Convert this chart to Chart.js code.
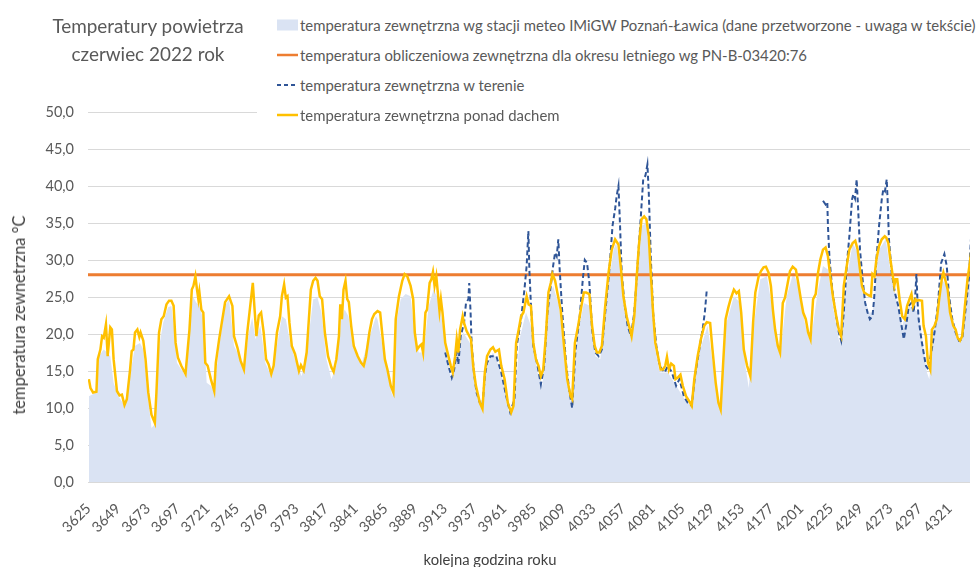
<!DOCTYPE html>
<html><head><meta charset="utf-8">
<script src="https://cdn.jsdelivr.net/npm/chart.js@4.4.1/dist/chart.umd.min.js"></script>
<style>
html,body{margin:0;padding:0;background:#fff;overflow:hidden}
#wrap{position:relative;width:980px;height:567px;font-family:Lato,"Open Sans",sans-serif;overflow:hidden}
#c{position:absolute;left:0;top:0}
#title{position:absolute;left:38px;top:12px;width:220px;text-align:center;color:#595959;font-size:18.9px;line-height:28px}
#legend{position:absolute;left:257px;top:6px;width:723px;height:122px;background:#fff}
.item{position:absolute;left:20px;height:30px;line-height:30px;white-space:nowrap;color:#595959;font-size:14.9px}
.item svg{position:absolute;left:0;top:9px}
.item span{position:absolute;left:23px;top:0}
#ytitle{position:absolute;left:19px;top:315px;transform:translate(-50%,-50%) rotate(-90deg);white-space:nowrap;color:#404040;font-size:16.5px}
#xtitle{position:absolute;left:490px;top:559px;transform:translate(-50%,-50%);white-space:nowrap;color:#404040;font-size:14.8px}
</style></head>
<body>
<div id="wrap">
<canvas id="c" width="980" height="567"></canvas>
<div id="title">Temperatury powietrza<br>czerwiec 2022 rok</div>
<div id="legend"></div>
<div id="ytitle">temperatura zewnetrzna °C</div>
<div id="xtitle">kolejna godzina roku</div>
</div>
<script>
// ---- data ----
const tickHours = [3625,3649,3673,3697,3721,3745,3769,3793,3817,3841,3865,3889,3913,3937,3961,3985,4009,4033,4057,4081,4105,4129,4153,4177,4201,4225,4249,4273,4297,4321];

const seriesLabels = [
  "temperatura zewnętrzna wg stacji meteo IMiGW Poznań-Ławica (dane przetworzone - uwaga w tekście)",
  "temperatura obliczeniowa zewnętrzna dla okresu letniego wg PN-B-03420:76",
  "temperatura zewnętrzna w terenie",
  "temperatura zewnętrzna ponad dachem"
];

// station (area)
const stationHours = [3625.3,3631.4,3633.3,3637.3,3639.9,3642.6,3645.3,3649.3,3654.1,3658.6,3662.6,3666.6,3669.3,3673.3,3675.9,3678.6,3681.3,3685.3,3689.3,3692,3694.6,3696.5,3700,3703.4,3706.6,3709.3,3711.9,3714.6,3717.8,3720.5,3723.9,3726.6,3730.6,3735.4,3738.6,3742.6,
3745.3,3750.6,3754.6,3757.3,3759.9,3763.9,3767.9,3772.7,3777.3,3781.3,3784.5,3788,3791.9,3797.3,3802.6,3806.6,3810.1,3813.3,3817.3,3821.3,3825.3,3829.3,3832,3835.1,3838.6,3845.3,3850.6,3857.3,
3858.6,3862.6,3866.6,3870.6,3873.3,3877.3,3881.3,3885.3,3887.9,3891.9,3895.9,3899.9,3903.9,3906.6,3910.6,3914.6,3917.8,3922.6,3927.9,3933.3,3937.3,3942.6,3946.6,3951.9,
3954.6,3961.3,3965.3,3969.3,3973.3,3978.6,3982.6,3987.9,3991.9,3996.7,4000.5,4005.3,4010.6,4015.4,4019.9,4025.3,4030.6,4034.6,4038.6,4043.9,4049.3,
4051.5,4054.6,4058.6,4063.4,4067.9,4071.9,4075.9,4079.4,4082.6,4086.6,4093.3,4099.9,4106.6,4111.9,4118.6,4125.3,4130.6,4135.4,4139.9,
4146.6,4151.9,4155.9,4158.6,4162.6,4167.9,4173.3,4177.3,4183.9,4189.3,4194.6,4198.6,4203.9,4208.5,4214.6,4218.6,4222.6,4226.6,4231.9,4238.6,
4242.6,4246.6,4250.6,4255.9,4258.6,4263.9,4269.3,4274.1,4282.6,4287.9,4295.9,4302.6,4304.5,4307.9,4314.6,4318.6,4322.6,4329.3,4334.6,4338.6];
const stationTemps = [11.6,12.1,17.0,17.9,17.5,17.0,13.4,11.6,10.3,14.3,18.4,18.8,17.9,11.2,7.3,7.8,17.5,21.5,23.6,23.8,20.2,16.1,15.2,14.3,20.2,25.1,24.3,23.8,22.0,13.4,13.0,12.1,18.4,23.8,24.7,18.4,
17.5,15.2,20.2,22.2,19.3,21.1,16.1,14.3,18.4,22.4,22.0,18.8,16.6,14.3,19.3,24.7,24.9,22.9,16.6,13.9,15.7,22.0,23.3,22.4,18.4,15.7,18.8,22.4,
22.0,18.4,14.8,11.6,21.1,24.7,25.4,25.1,21.1,17.5,17.5,23.8,26.0,25.1,22.0,17.5,13.9,16.6,20.2,18.8,13.9,9.8,15.7,17.5,
16.6,13.0,8.9,10.3,19.3,22.9,21.1,14.8,13.0,24.7,26.5,23.8,14.8,10.3,19.3,24.2,23.8,17.0,16.6,24.7,31.4,
32.3,29.2,22.9,19.7,27.4,34.6,35.0,28.3,18.4,14.8,14.8,13.0,11.2,10.3,17.5,21.1,14.8,9.8,21.1,
25.1,24.2,15.7,12.7,21.1,27.4,27.8,23.8,17.0,25.1,28.3,26.5,21.5,18.8,26.0,29.2,28.7,23.8,18.8,28.3,
32.3,31.0,25.6,22.9,22.9,31.4,32.8,27.4,21.1,23.8,22.9,14.8,13.9,20.2,27.4,26.5,22.0,18.8,26.0,32.8];

// design temperature (PN-B-03420:76)
const designHours = [3624, 4340];
const designTemps = [28.0, 28.0];

// field (dashed)
const fieldHours = [3913.3,3915.9,3918.6,3920.5,3922.6,3923.9,3925.8,3928.5,3930.1,3932,3932.7,3933.8,3934.6,3936.5,3938.6,3941.3,3943.4,3945.3,3947.1,3949.8,3954.6,3958.6,3962.6,3965.8,3969.3,3971.1,3974.6,3977.3,3979.1,3980.5,3981.3,3982.6,3984.5,3987.9,3990.6,3993.3,3995.9,3998.6,4000.5,4002.1,4003.4,4004.7,4005.8,4007.9,4011.1,4013.8,4015.9,4018.6,4021.8,4024.5,4026.1,4027.9,4029.8,4032,4034.6,4037.3,4039.9,4042.6,4045.8,4048.5,4050.6,4051.9,4053.3,4054.6,4055.9,4058.1,4060.7,4063.4,4066.1,4068.7,4071.4,4073.3,4075.1,4076.7,4077.8,4079.4,4081.3,4083.9,4086.6,4090.6,4093.3,4096.5,4099.9,4102.6,4106.1,4109.3,4112.5,4115.1,4118.6,4121.3,4123.1,4124.7,
4170,
4218.6,4220.7,4222.1,4222.6,4223.9,4226.1,4228.7,4231.4,4233.3,4235.4,4237.8,4239.9,4242.1,4243.1,4244.5,4245.8,4246.9,4248.5,4250.6,4252.7,4254.6,4256.5,4258.6,4259.9,4261.8,4263.9,4266.1,4267.4,4268.7,4270.1,4270.9,4271.9,4274.1,4276.7,4279.4,4282.1,4283.9,4285.8,4287.9,4290.1,4291.9,4293.3,4294.1,4294.9,4295.9,4298.1,4299.9,4301.8,4303.9,4306.1,4308.7,4311.4,4314.1,4316.7,4318.6,4320.5,4323.1,4325.8,4328.5,4331.1,4333.8,4336.5,4338.6];
const fieldTemps = [17.5,15.7,14.1,15.2,17.5,15.9,19.7,21.5,24.2,24.7,26.9,22.9,18.8,14.8,12.1,10.7,10.3,14.3,16.1,17.0,17.0,14.8,11.6,9.4,11.2,18.4,22.0,26.0,29.2,33.9,28.7,23.8,18.4,15.7,13.2,15.7,22.9,26.5,29.2,31.0,30.5,32.8,28.7,22.9,15.7,12.1,10.0,17.9,22.0,27.4,30.0,29.6,26.9,20.6,17.5,17.0,17.9,22.9,28.3,34.6,36.9,38.7,40.0,34.6,28.3,24.2,21.1,19.7,22.9,29.2,35.9,40.9,41.4,42.9,39.1,30.5,22.9,18.4,15.7,14.8,15.7,14.8,13.0,13.9,11.6,10.7,10.3,14.3,17.9,20.6,22.9,26.0,
null,
38.0,37.5,37.8,34.6,30.1,26.0,22.9,20.2,19.1,22.9,29.2,33.2,38.2,38.9,38.3,40.9,37.3,31.4,27.4,24.2,22.9,22.0,22.4,24.7,30.1,34.6,38.2,39.6,39.3,40.9,37.8,32.8,28.3,25.6,23.8,21.1,19.3,21.1,23.8,24.2,22.9,25.6,28.1,24.7,22.0,19.3,17.5,15.7,15.2,17.5,20.2,23.8,29.6,30.8,29.2,25.1,22.0,20.2,19.1,19.3,23.3,27.4,34.2];

// above roof
const roofHours = [3625.3,3626.6,3628.7,3631.4,3632.5,3634.6,3636,3637.3,3639.1,3640.5,3642.6,3643.9,3645.3,3648,3650.1,3652,3654.1,3656,3658.6,3659.9,3661.3,3662.6,3664.5,3666.1,3667.1,3669.3,3671.1,3673.3,3675.9,3678.6,3679.9,3682,3683.9,3685.8,3688,3690.1,3692,3693.8,3695.4,3697.3,3700,3703.4,3705.3,3706.6,3708.5,3709.8,3711.4,3712.7,3713.8,3714.6,3716.2,3717.8,3719.4,3721.3,3723.9,3726.6,3727.9,3730.6,3732.7,3735.4,3738.6,
3741.3,3742.6,3745.3,3747.9,3750.6,3753.3,3755.1,3757.8,3759.4,3760.7,3762.6,3764.5,3766.6,3768.5,3770.6,3772.7,3774.6,3777.3,3779.9,3781.3,3783.1,3784.5,3785.8,3787.4,3789.3,3791.9,3795.1,3796.7,3798.9,3801.3,3803.1,3804.7,3806.6,3808.5,3810.1,3811.9,3813.8,3816,3818.6,3821.3,3823.1,3825.3,3827.4,3828.5,3829.8,3831.1,3832.7,3834.1,3835.4,3837.3,3839.4,3842.6,3845.3,3847.4,3849.3,3852,3854.1,3856,3858.6,
3860.7,3862.6,3864.5,3866.6,3869.3,3871.4,3873.3,3875.9,3878.6,3880.5,3882.6,3885.3,3887.4,3888.7,3890.6,3892.7,3894.1,3895.4,3897.3,3898.6,3900.7,3902.1,3903.4,3904.7,3906.1,3907.1,3908.7,3909.8,3911.1,3913.3,3915.9,3917.8,3919.4,3921.3,3922.6,3923.9,3925.3,3927.4,3928.5,3930.6,3934.1,3935.9,3938.1,3941.3,3943.4,3945.3,3947.1,3949.8,3951.9,3953.8,
3956.7,3958.6,3961.3,3963.9,3966.6,3968.5,3970.6,3972.7,3974.6,3976.5,3979.1,3980.7,3982.6,3984.5,3986.6,3988.7,3990.6,3992.5,3994.6,3996.7,3998.6,3999.9,4002.1,4003.9,4006.6,4009.3,4011.9,4014.6,4015.9,4018.1,4020.7,4023.4,4025.3,4027.2,4029.8,4032,4034.1,4035.9,4037.8,4039.9,4042.6,4045.3,4047.9,4050.6,
4053.3,4055.4,4057.3,4059.9,4062.6,4063.9,4066.1,4067.9,4069.8,4071.9,4074.1,4075.9,4077.8,4079.4,4081.3,4083.1,4085.3,4087.4,4089.3,4091.1,4092.5,4094.1,4095.9,4098.1,4099.4,4101.3,4103.4,4105.3,4107.9,4110.6,4112.5,4114.6,4117.3,4119.9,4122.6,4124.7,4127.4,4129.3,4131.9,4134.1,4135.9,4137.8,4139.9,4142.1,4143.9,4146.6,
4148.7,4150.6,4152.5,4154.6,4157.3,4159.9,4162.1,4163.9,4166.6,4168.5,4170.6,4172.5,4174.6,4176.5,4178.1,4179.9,4182.1,4183.9,4186.1,4187.9,4190.1,4191.9,4194.1,4196.7,4198.6,4200.7,4202.6,4204.7,4206.6,4208.5,4210.6,4212.7,4214.6,4216.5,4218.6,4220.7,4222.6,4224.5,4226.6,4229.3,4231.4,4233.3,4235.4,4237.8,4239.9,4242.6,
4244.7,4246.6,4248.5,4250.1,4251.9,4253.8,4255.9,4257.3,4258.6,4260.2,4261.8,4263.9,4266.1,4268.5,4269.8,4271.4,4272.7,4274.6,4276.2,4277.3,4278.6,4280.5,4282.6,4284.7,4286.6,4288.5,4290.1,4291.4,4293.3,4294.6,4295.9,4298.6,4299.9,4301.8,4303.4,4305.3,4306.6,4308.7,4310.6,4312.5,4314.6,4315.9,4317.3,4319.4,4321.3,4323.9,4325.8,4327.4,4329.3,4331.1,4333.3,4335.4,4337.3,4338.6];
const roofTemps = [13.9,12.7,12.1,12.2,16.6,17.9,19.7,19.5,21.3,17.0,20.9,20.6,16.6,12.3,11.7,11.8,10.4,11.2,15.2,17.7,17.9,20.2,20.6,19.6,20.2,19.1,16.6,12.1,9.1,8.0,12.1,20.2,22.0,22.4,24.0,24.5,24.5,23.8,18.8,16.8,15.7,14.6,18.2,20.6,26.0,26.5,27.8,26.0,24.7,25.7,23.3,22.9,16.1,15.7,13.9,12.3,16.1,19.3,21.5,24.3,25.1,
23.8,19.7,18.2,16.4,15.2,20.2,22.9,26.9,22.9,19.7,22.5,22.9,20.2,16.6,15.9,14.6,15.7,20.2,22.4,25.1,26.7,24.9,25.1,21.5,18.4,17.3,15.0,15.8,15.1,17.5,22.0,26.0,27.2,27.6,27.2,25.1,24.7,20.2,17.0,15.5,14.9,16.6,19.7,24.0,22.0,26.0,27.2,24.7,24.3,21.1,18.4,17.0,16.1,15.7,17.0,20.2,22.0,22.7,23.1,
22.9,19.7,16.6,15.2,13.0,12.1,22.0,25.1,27.2,28.1,27.8,26.5,24.7,20.2,17.9,18.4,18.6,17.5,22.9,23.3,26.9,27.4,28.4,26.5,27.8,26.0,23.1,24.7,22.9,18.8,17.0,15.7,14.8,17.0,19.3,17.5,20.6,22.4,21.5,20.4,19.3,15.7,13.0,10.7,9.9,14.8,17.0,17.9,18.2,17.6,
17.9,15.7,13.9,10.7,9.4,10.3,18.8,20.6,22.4,22.9,25.1,24.0,23.8,18.8,16.6,15.7,14.3,15.2,19.7,25.6,26.9,28.1,27.2,25.6,23.3,18.4,13.9,11.6,11.2,18.8,21.1,23.8,25.6,25.6,25.4,21.1,18.4,17.5,17.5,18.4,23.8,28.3,31.4,32.8,
32.1,28.7,25.1,22.4,20.6,19.7,22.4,27.4,31.9,35.5,35.9,35.5,33.2,28.3,22.9,18.8,17.0,15.2,15.2,15.7,16.9,15.2,16.0,15.7,13.9,14.1,14.5,13.0,11.6,10.9,10.3,13.9,17.0,19.3,21.1,21.6,21.5,17.9,13.4,10.7,9.8,15.7,22.0,23.6,24.7,26.0,
25.5,25.8,22.9,17.9,15.7,14.3,21.5,25.6,27.8,28.5,29.0,29.1,28.3,26.5,23.3,20.6,18.4,17.5,24.2,24.9,26.9,28.5,29.1,28.7,26.9,24.7,22.9,22.0,20.2,19.3,24.7,25.4,28.3,30.1,31.4,31.7,30.5,27.8,25.1,22.4,20.6,19.7,26.5,29.2,31.4,32.3,
32.6,31.4,28.7,26.5,25.6,25.4,25.2,25.1,28.1,27.8,30.1,31.9,32.8,33.2,33.0,32.3,30.5,28.3,26.5,27.4,27.4,24.7,22.4,22.0,23.8,24.7,25.4,23.8,24.7,24.5,24.6,24.5,21.1,19.7,16.1,15.2,20.6,21.1,22.0,24.7,27.4,28.3,27.4,26.0,22.9,21.1,20.6,19.5,19.1,19.7,23.8,27.4,29.6,31.4];

const seriesColors = ["#DAE3F3", "#ED7D31", "#2F5597", "#FFC000"];

// ---- chart ----
const pts = (hs, ts) => hs.map((h, i) => ({x: h, y: ts[i]}));
const FONT = "Lato";

const chart = new Chart(document.getElementById('c'), {
  type: 'line',
  data: {
    datasets: [
      {label: seriesLabels[0], data: pts(stationHours, stationTemps), borderWidth: 0, borderColor: seriesColors[0],
       backgroundColor: seriesColors[0], fill: 'origin', pointRadius: 0, tension: 0, order: 4},
      {label: seriesLabels[1], data: pts(designHours, designTemps), borderWidth: 3, borderColor: seriesColors[1],
       fill: false, pointRadius: 0, order: 3},
      {label: seriesLabels[2], data: pts(fieldHours, fieldTemps), borderWidth: 2, borderColor: seriesColors[2],
       borderDash: [5, 3], fill: false, pointRadius: 0, tension: 0, spanGaps: false, order: 2},
      {label: seriesLabels[3], data: pts(roofHours, roofTemps), borderWidth: 2.5, borderColor: seriesColors[3],
       fill: false, pointRadius: 0, tension: 0, order: 1}
    ]
  },
  options: {
    responsive: false,
    animation: false,
    devicePixelRatio: 1,
    layout: {padding: {top: 112, left: 0, right: 0, bottom: 0}},
    plugins: {legend: {display: false}, tooltip: {enabled: false}, title: {display: false}},
    events: [],
    scales: {
      x: {
        type: 'linear', min: 3624.6, max: 4337.4,
        afterBuildTicks: s => { s.ticks = tickHours.map(v => ({value: v})); },
        afterFit: s => { s.height = 85; },
        ticks: {autoSkip: false, minRotation: 45, maxRotation: 45, color: '#595959',
                font: {family: FONT, size: 14.5}, padding: 18, callback: v => String(v)},
        grid: {display: false, drawTicks: false},
        border: {display: true, color: '#D9D9D9'}
      },
      y: {
        min: 0, max: 50,
        afterFit: s => { s.width = 88; },
        ticks: {stepSize: 5, color: '#595959', font: {family: FONT, size: 14.5}, padding: 14,
                callback: v => v.toFixed(1).replace('.', ',')},
        grid: {color: '#D9D9D9', drawTicks: false, tickLength: 0},
        border: {display: false}
      }
    }
  }
});

// ---- legend (HTML) ----
const leg = document.getElementById('legend');
chart.data.datasets.forEach((ds, i) => {
  const it = document.createElement('div');
  it.className = 'item';
  it.style.top = (4 + 30 * i) + 'px';
  let sym;
  if (i === 0) sym = `<svg width="21" height="12"><rect x="0" y="0.5" width="21" height="11" fill="${ds.backgroundColor}"/></svg>`;
  else if (i === 2) sym = `<svg width="21" height="12"><line x1="0" y1="6" x2="21" y2="6" stroke="${ds.borderColor}" stroke-width="2" stroke-dasharray="4,3"/></svg>`;
  else sym = `<svg width="21" height="12"><line x1="0" y1="6" x2="21" y2="6" stroke="${ds.borderColor}" stroke-width="2.5"/></svg>`;
  it.innerHTML = sym + `<span>${ds.label}</span>`;
  leg.appendChild(it);
});
</script>
</body></html>
